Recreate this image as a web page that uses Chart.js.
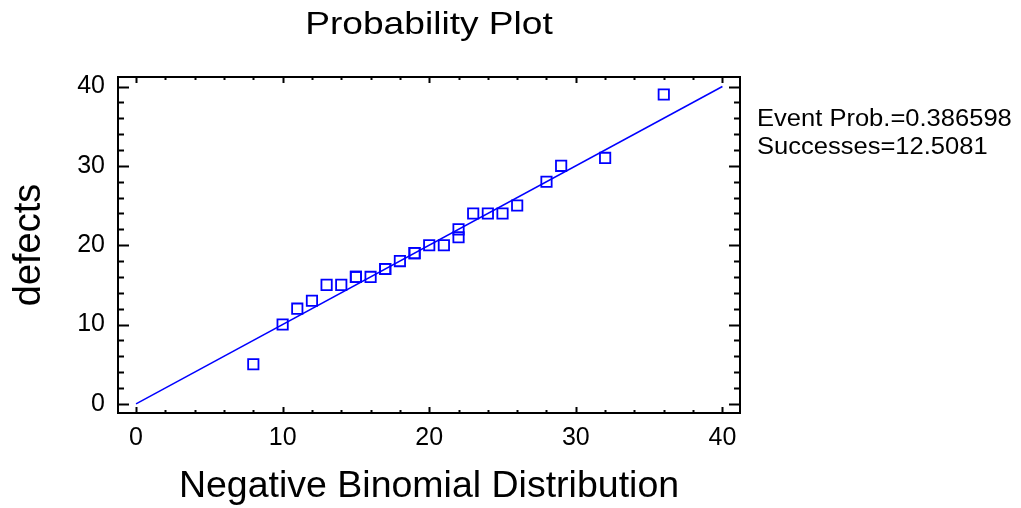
<!DOCTYPE html>
<html>
<head>
<meta charset="utf-8">
<script src="https://cdn.jsdelivr.net/npm/chart.js@4.4.1/dist/chart.umd.min.js"></script>
<style>
  html, body { margin: 0; padding: 0; background: #fff; }
  canvas { display: block; }
</style>
</head>
<body>
<canvas id="probPlot" width="1021" height="508"></canvas>
<script>
// PROBABILITY PLOT
const quantiles = [8, 10, 11, 12, 13, 14, 15, 15, 16, 17, 17, 18, 19, 19, 20, 21, 22, 22, 23, 24, 25, 26, 28, 29, 32, 36];
const defects   = [5, 10, 12, 13, 15, 15, 16, 16, 16, 17, 17, 18, 19, 19, 20, 20, 21, 22, 24, 24, 24, 25, 28, 30, 31, 39];
const fitX = [0, 40];
const fitY = [0, 40];
const xTicks = [0, 10, 20, 30, 40];
const yTicks = [0, 10, 20, 30, 40];
const minorStep = 2;
const infoLines = ['Event Prob.=0.386598', 'Successes=12.5081'];

const FONT = '"Liberation Sans", Arial, sans-serif';
const BLUE = '#0000ff';

// frame, inward ticks, title and the side text
const framePlugin = {
    id: 'framePlugin',
    afterDraw: function(chart) {
        const ctx = chart.ctx;
        const a = chart.chartArea;
        const xs = chart.scales.x, ys = chart.scales.y;
        ctx.save();
        ctx.strokeStyle = '#000';
        ctx.lineWidth = 2;
        ctx.strokeRect(a.left, a.top, a.right - a.left, a.bottom - a.top);

        ctx.beginPath();
        for (let v = xTicks[0]; v <= xTicks[xTicks.length - 1]; v += minorStep) {
            const px = Math.round(xs.getPixelForValue(v)) + 0.5;
            const len = xTicks.includes(v) ? 6 : 3;
            ctx.moveTo(px, a.bottom); ctx.lineTo(px, a.bottom - len);
            ctx.moveTo(px, a.top); ctx.lineTo(px, a.top + len);
        }
        for (let v = yTicks[0]; v <= yTicks[yTicks.length - 1]; v += minorStep) {
            const py = Math.round(ys.getPixelForValue(v)) + 0.5;
            const len = yTicks.includes(v) ? 11 : 6;
            ctx.moveTo(a.left, py); ctx.lineTo(a.left + len, py);
            ctx.moveTo(a.right, py); ctx.lineTo(a.right - len, py);
        }
        ctx.stroke();

        ctx.fillStyle = '#000';
        ctx.textBaseline = 'alphabetic';

        // title (stretched like the original)
        ctx.save();
        ctx.font = '32px ' + FONT;
        ctx.textAlign = 'center';
        ctx.translate((a.left + a.right) / 2, 34);
        ctx.scale(1.16, 1);
        ctx.fillText('Probability Plot', 0, 0);
        ctx.restore();

        ctx.font = '23px ' + FONT;
        ctx.textAlign = 'left';
        infoLines.forEach(function(t, i) {
            ctx.save();
            ctx.translate(757, 126 + i * 28);
            ctx.scale(1.11, 1);
            ctx.fillText(t, 0, 0);
            ctx.restore();
        });
        ctx.restore();
    }
};

const chartData = {
    datasets: [{
        type: 'scatter',
        label: 'defects',
        data: quantiles.map(function(q, i) { return { x: q, y: defects[i] }; }),
        pointStyle: 'rect',
        pointRadius: 7.3,
        pointBorderWidth: 1.8,
        borderColor: BLUE,
        backgroundColor: 'transparent',
        pointHoverRadius: 7.3
    }, {
        type: 'line',
        label: 'fit',
        data: fitX.map(function(x, i) { return { x: x, y: fitY[i] }; }),
        borderColor: BLUE,
        borderWidth: 1.5,
        pointRadius: 0,
        fill: false
    }]
};

const chartOptions = {
    responsive: false,
    animation: false,
    layout: {
        padding: { left: 0, right: 281, top: 77, bottom: 0 }
    },
    scales: {
        x: {
            type: 'linear',
            min: -1.23,
            max: 41.2,
            afterBuildTicks: function(s) { s.ticks = xTicks.map(function(v) { return { value: v }; }); },
            afterFit: function(s) { s.height = 95; },
            ticks: {
                color: '#000',
                padding: 10,
                maxRotation: 0,
                font: { family: FONT, size: 25 }
            },
            grid: { display: false, drawTicks: false },
            border: { display: false },
            title: {
                display: true,
                text: 'Negative Binomial Distribution',
                color: '#000',
                font: { family: FONT, size: 37.5 },
                padding: { top: 0, bottom: -1 }
            }
        },
        y: {
            type: 'linear',
            min: -1.15,
            max: 41.2,
            afterBuildTicks: function(s) { s.ticks = yTicks.map(function(v) { return { value: v }; }); },
            afterFit: function(s) { s.width = 118; },
            ticks: {
                color: '#000',
                padding: 13,
                font: { family: FONT, size: 25 }
            },
            grid: { display: false, drawTicks: false },
            border: { display: false },
            title: {
                display: true,
                text: 'defects',
                color: '#000',
                font: { family: FONT, size: 38 },
                padding: { top: 7, bottom: 0 }
            }
        }
    },
    plugins: {
        legend: { display: false },
        tooltip: { enabled: true },
        title: { display: false }
    }
};

const ctxProb = document.getElementById('probPlot').getContext('2d');
const probabilityPlot = new Chart(ctxProb, {
    data: chartData,
    options: chartOptions,
    plugins: [framePlugin]
});
</script>
</body>
</html>
